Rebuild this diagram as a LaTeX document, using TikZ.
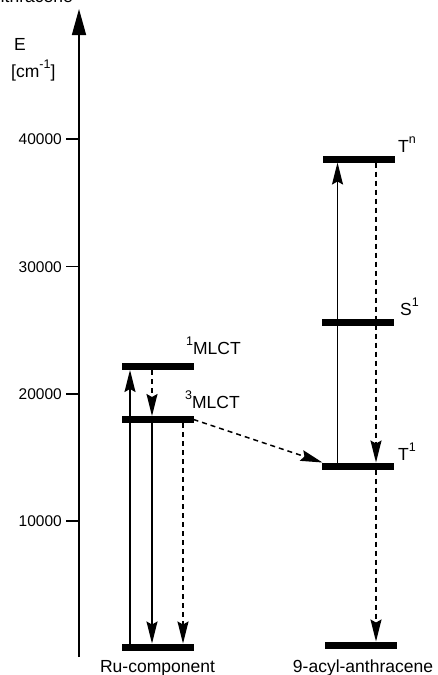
\documentclass[tikz,border=0pt]{standalone}
\usepackage{fontspec}
\setmainfont{Liberation Sans}
\usetikzlibrary{arrows.meta}
\newcommand{\sps}[1]{\raisebox{0.48em}{\fontsize{12.5}{12.5}\selectfont #1}}
\begin{document}
\begin{tikzpicture}[x=1pt,y=-1pt,
  levelbar/.style={fill=black, draw=none, minimum width=72pt, minimum height=7pt, inner sep=0pt, outer sep=0pt},
  trans/.style={line width=1.5pt, -{Stealth[length=22pt,width=11pt,inset=3pt]}},
  dtrans/.style={trans, dash pattern=on 5pt off 4pt},
  lbl/.style={font=\fontsize{17.5}{20}\selectfont, inner sep=0pt, anchor=base west},
  clbl/.style={font=\fontsize{17.5}{20}\selectfont, inner sep=0pt, anchor=base},
  num/.style={font=\fontsize{15.5}{18}\selectfont, inner sep=0pt, anchor=base east},
  tick/.style={line width=1.5pt},
]
\useasboundingbox (0,0) rectangle (437,675);

% cut-off title
\node[font=\fontsize{17.5}{20}\selectfont, inner sep=0pt, anchor=base east] (title) at (73,2.5) {anthracene};

% axis
\coordinate (axbot) at (79,657);
\coordinate (axtop) at (79,9);
\draw[line width=1.6pt, -{Triangle[length=26pt,width=14pt]}] (axbot) -- (axtop);
\node[lbl] (E) at (14,50) {E};
\node[lbl] (unit) at (11,77) {[cm\sps{-1}]};

\foreach \yy/\txt/\nm in {139/40000/t4, 266.5/30000/t3, 394/20000/t2, 521/10000/t1}{
  \coordinate (\nm a) at (66,\yy);
  \coordinate (\nm b) at (79,\yy);
  \draw[tick] (\nm a) -- (\nm b);
  \node[num] (\nm l) at (62,\yy+5.5) {\txt};
}

% Ru-component levels
\node[levelbar] (ru0) at (157.5,647) {};
\node[levelbar] (ml1) at (157.5,366.5) {};
\node[levelbar] (ml3) at (157.5,419.5) {};

% anthracene levels
\node[levelbar] (an0) at (360.5,645) {};
\node[levelbar] (at1) at (357.5,466) {};
\node[levelbar] (as1) at (358,322) {};
\node[levelbar] (atn) at (359,159) {};

% labels
\node[lbl] (l1) at (186,354) {\sps{1}MLCT};
\node[lbl] (l3) at (185,408) {\sps{3}MLCT};
\node[lbl] (ltn) at (398,152) {T\sps{n}};
\node[lbl] (ls1) at (400,315) {S\sps{1}};
\node[lbl] (lt1) at (398,460) {T\sps{1}};
\node[clbl] (ru) at (157.5,672) {Ru-component};
\node[clbl] (an) at (363,672) {9-acyl-anthracene};

% Ru transitions
\draw[trans]  ([xshift=8.5pt]ru0.north west) -- ([xshift=8.5pt]ml1.south west);
\draw[dtrans] ([xshift=30.5pt]ml1.south west) -- ([xshift=30.5pt]ml3.north west);
\draw[trans]  ([xshift=30.5pt]ml3.south west) -- ([xshift=30.5pt]ru0.north west);
\draw[dtrans] ([xshift=61.5pt]ml3.south west) -- ([xshift=61.5pt]ru0.north west);

% energy transfer
\draw[dtrans] (ml3.east) -- ([xshift=1pt]at1.north west);

% anthracene transitions
\draw[trans]  ([xshift=16pt]at1.north west) -- ([xshift=16pt]at1.north west |- atn.south);
\draw[dtrans] ([xshift=54.5pt]at1.north west |- atn.south) -- ([xshift=54.5pt]at1.north west);
\draw[dtrans] ([xshift=54.5pt]at1.south west) -- ([xshift=54.5pt]at1.south west |- an0.north);
\end{tikzpicture}
\end{document}
